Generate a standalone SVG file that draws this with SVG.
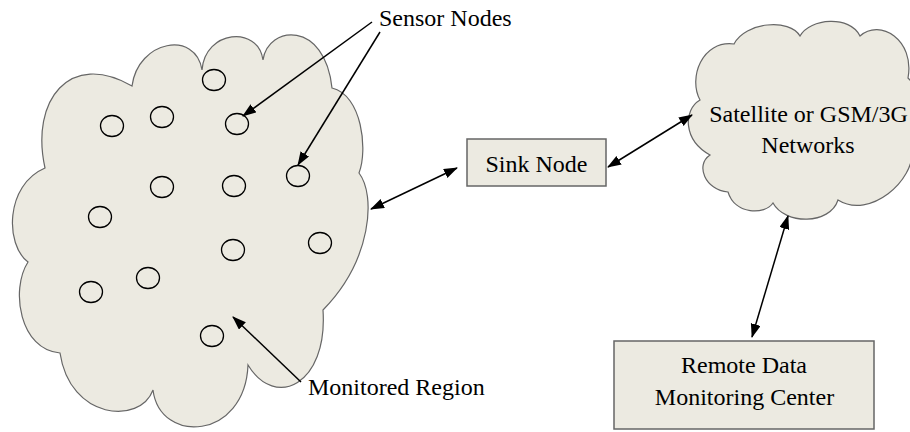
<svg xmlns="http://www.w3.org/2000/svg" width="910" height="432" viewBox="0 0 910 432">
<defs>
<style>
.cloud{fill:#ECEAE1;stroke:#666;stroke-width:1.2}
.box{fill:#ECEAE1;stroke:#666;stroke-width:1.5}
.sn{fill:none;stroke:#000;stroke-width:1.3}
.lbl{font-family:"Liberation Serif","Times New Roman",serif;font-size:24px;fill:#000}
.c{text-anchor:middle}
.arr{fill:none;stroke:#000;stroke-width:1.5}
</style>
<marker id="ah" markerUnits="userSpaceOnUse" markerWidth="16" markerHeight="12" refX="13" refY="5" orient="auto-start-reverse" viewBox="0 0 16 12">
<path d="M0,0 L14,5 L0,10 z" fill="#000"/>
</marker>
</defs>
<rect width="910" height="432" fill="#fff"/>
<g id="monitored-region">
<path class="cloud" d="M132,86 C138,40 196,30 202,70 C205,30 258,25 263,60 C268,25 325,20 332,88 C362,95 368,150 359,173 C376,195 372,260 323,310 C328,385 275,410 248,365 C245,440 160,445 153,390 C140,425 70,420 60,353 C20,350 10,290 28,262 C5,245 5,185 45,168 C30,100 70,50 132,86 Z"/>
</g>
<g id="sensor-nodes">
<ellipse class="sn" cx="214" cy="80" rx="11.5" ry="10.5"/>
<ellipse class="sn" cx="112" cy="126" rx="11.5" ry="10.5"/>
<ellipse class="sn" cx="162" cy="117" rx="11.5" ry="10.5"/>
<ellipse class="sn" cx="237" cy="124" rx="11.5" ry="10.5"/>
<ellipse class="sn" cx="298" cy="176" rx="11.5" ry="10.5"/>
<ellipse class="sn" cx="162" cy="187" rx="11.5" ry="10.5"/>
<ellipse class="sn" cx="234" cy="186" rx="11.5" ry="10.5"/>
<ellipse class="sn" cx="100" cy="217" rx="11.5" ry="10.5"/>
<ellipse class="sn" cx="233" cy="250" rx="11.5" ry="10.5"/>
<ellipse class="sn" cx="320" cy="243" rx="11.5" ry="10.5"/>
<ellipse class="sn" cx="148" cy="278" rx="11.5" ry="10.5"/>
<ellipse class="sn" cx="91" cy="292" rx="11.5" ry="10.5"/>
<ellipse class="sn" cx="212" cy="336" rx="11.5" ry="10.5"/>
</g>
<g id="sink-node">
<rect class="box" x="467" y="139" width="139" height="47"/>
<text class="lbl c" x="536.5" y="171.5">Sink Node</text>
</g>
<g id="network-cloud">
<path class="cloud" d="M700,100 C688,78 702,40 734,44 C745,22 790,18 800,36 C810,18 850,15 860,36 C880,18 915,40 908,78 C925,95 925,130 912,150 C915,180 870,220 838,200 C830,225 785,225 773,203 C765,215 735,215 728,192 C705,190 695,165 710,155 C683,140 683,110 700,100 Z"/>
<text class="lbl c" x="808.5" y="122">Satellite or GSM/3G</text>
<text class="lbl c" x="808" y="153">Networks</text>
</g>
<g id="remote-center">
<rect class="box" x="614" y="341" width="260" height="88"/>
<text class="lbl c" x="744" y="373">Remote Data</text>
<text class="lbl c" x="744.5" y="405">Monitoring Center</text>
</g>
<g id="labels">
<text class="lbl" x="379" y="26">Sensor Nodes</text>
<text class="lbl" x="308" y="395">Monitored Region</text>
</g>
<g id="connectors">
<line class="arr" x1="372" y1="22" x2="243" y2="116" marker-end="url(#ah)"/>
<line class="arr" x1="380" y1="32" x2="298" y2="165" marker-end="url(#ah)"/>
<line class="arr" x1="301" y1="382" x2="233" y2="317" marker-end="url(#ah)"/>
<line class="arr" x1="371" y1="209" x2="457" y2="168" marker-start="url(#ah)" marker-end="url(#ah)"/>
<line class="arr" x1="608" y1="167" x2="692" y2="115" marker-start="url(#ah)" marker-end="url(#ah)"/>
<line class="arr" x1="788" y1="216" x2="752" y2="337" marker-start="url(#ah)" marker-end="url(#ah)"/>
</g>
</svg>
